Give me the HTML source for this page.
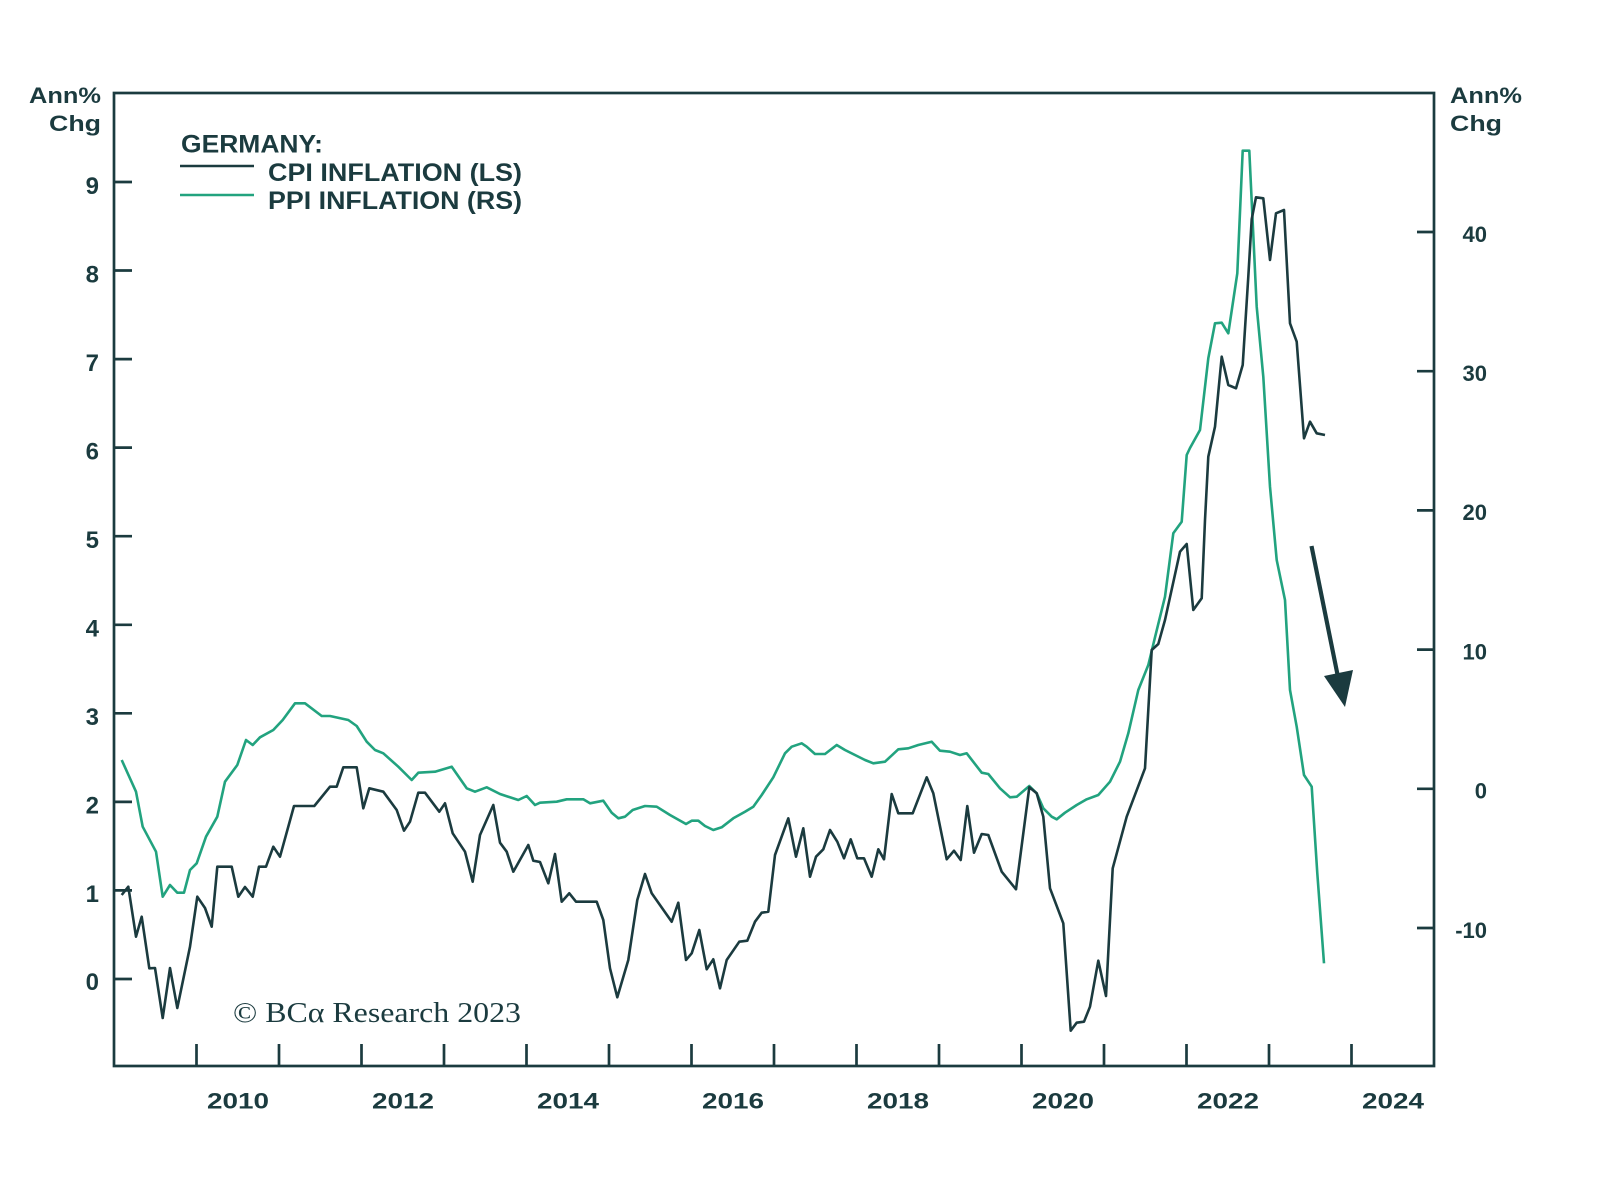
<!DOCTYPE html>
<html>
<head>
<meta charset="utf-8">
<style>
  html,body{margin:0;padding:0;background:#ffffff;}
  svg{display:block;}
  .ax{font-family:"Liberation Sans",sans-serif;font-weight:bold;fill:#1b3b3f;}
</style>
</head>
<body>
<svg width="1600" height="1186" viewBox="0 0 1600 1186" xmlns="http://www.w3.org/2000/svg">
  <rect width="1600" height="1186" fill="#ffffff"/>

  <!-- plot frame -->
  <rect x="114" y="93" width="1320" height="973" fill="none" stroke="#1b3b3f" stroke-width="2.7"/>

  <!-- left ticks -->
  <g stroke="#1b3b3f" stroke-width="2.7">
    <line x1="114" y1="182" x2="132" y2="182"/>
    <line x1="114" y1="270.5" x2="132" y2="270.5"/>
    <line x1="114" y1="359.1" x2="132" y2="359.1"/>
    <line x1="114" y1="447.6" x2="132" y2="447.6"/>
    <line x1="114" y1="536.2" x2="132" y2="536.2"/>
    <line x1="114" y1="624.8" x2="132" y2="624.8"/>
    <line x1="114" y1="713.3" x2="132" y2="713.3"/>
    <line x1="114" y1="801.9" x2="132" y2="801.9"/>
    <line x1="114" y1="890.4" x2="132" y2="890.4"/>
    <line x1="114" y1="979" x2="132" y2="979"/>
  </g>
  <!-- right ticks -->
  <g stroke="#1b3b3f" stroke-width="2.7">
    <line x1="1417" y1="232" x2="1434" y2="232"/>
    <line x1="1417" y1="371.2" x2="1434" y2="371.2"/>
    <line x1="1417" y1="510.4" x2="1434" y2="510.4"/>
    <line x1="1417" y1="649.6" x2="1434" y2="649.6"/>
    <line x1="1417" y1="788.8" x2="1434" y2="788.8"/>
    <line x1="1417" y1="928" x2="1434" y2="928"/>
  </g>
  <!-- bottom ticks -->
  <g stroke="#1b3b3f" stroke-width="2.7">
    <line x1="196.5" y1="1044" x2="196.5" y2="1066"/>
    <line x1="279" y1="1044" x2="279" y2="1066"/>
    <line x1="361.5" y1="1044" x2="361.5" y2="1066"/>
    <line x1="444" y1="1044" x2="444" y2="1066"/>
    <line x1="526.5" y1="1044" x2="526.5" y2="1066"/>
    <line x1="609" y1="1044" x2="609" y2="1066"/>
    <line x1="691.5" y1="1044" x2="691.5" y2="1066"/>
    <line x1="774" y1="1044" x2="774" y2="1066"/>
    <line x1="856.5" y1="1044" x2="856.5" y2="1066"/>
    <line x1="939" y1="1044" x2="939" y2="1066"/>
    <line x1="1021.5" y1="1044" x2="1021.5" y2="1066"/>
    <line x1="1104" y1="1044" x2="1104" y2="1066"/>
    <line x1="1186.5" y1="1044" x2="1186.5" y2="1066"/>
    <line x1="1269" y1="1044" x2="1269" y2="1066"/>
    <line x1="1351.5" y1="1044" x2="1351.5" y2="1066"/>
  </g>

  <!-- left labels -->
  <g class="ax" font-size="24" text-anchor="end">
    <text x="99" y="194">9</text>
    <text x="99" y="282.5">8</text>
    <text x="99" y="371">7</text>
    <text x="99" y="459.5">6</text>
    <text x="99" y="548">5</text>
    <text x="99" y="636.5">4</text>
    <text x="99" y="725">3</text>
    <text x="99" y="813.5">2</text>
    <text x="99" y="902">1</text>
    <text x="99" y="990">0</text>
  </g>
  <!-- right labels -->
  <g class="ax" font-size="22" text-anchor="end">
    <text x="1487" y="242">40</text>
    <text x="1487" y="381">30</text>
    <text x="1487" y="520">20</text>
    <text x="1487" y="659.5">10</text>
    <text x="1487" y="798.5">0</text>
    <text x="1487" y="938">-10</text>
  </g>
  <!-- axis titles -->
  <g class="ax" font-size="22">
    <text x="101" y="103" text-anchor="end" textLength="72" lengthAdjust="spacingAndGlyphs">Ann%</text>
    <text x="101" y="131" text-anchor="end" textLength="52" lengthAdjust="spacingAndGlyphs">Chg</text>
    <text x="1450" y="103" textLength="72" lengthAdjust="spacingAndGlyphs">Ann%</text>
    <text x="1450" y="131" textLength="52" lengthAdjust="spacingAndGlyphs">Chg</text>
  </g>
  <!-- year labels -->
  <g class="ax" font-size="22">
    <text x="207" y="1108.5" textLength="62" lengthAdjust="spacingAndGlyphs">2010</text>
    <text x="372" y="1108.5" textLength="62" lengthAdjust="spacingAndGlyphs">2012</text>
    <text x="537" y="1108.5" textLength="62" lengthAdjust="spacingAndGlyphs">2014</text>
    <text x="702" y="1108.5" textLength="62" lengthAdjust="spacingAndGlyphs">2016</text>
    <text x="867" y="1108.5" textLength="62" lengthAdjust="spacingAndGlyphs">2018</text>
    <text x="1032" y="1108.5" textLength="62" lengthAdjust="spacingAndGlyphs">2020</text>
    <text x="1197" y="1108.5" textLength="62" lengthAdjust="spacingAndGlyphs">2022</text>
    <text x="1362" y="1108.5" textLength="62" lengthAdjust="spacingAndGlyphs">2024</text>
  </g>

  <!-- legend -->
  <g class="ax" font-size="25">
    <text x="181" y="152.5" textLength="142" lengthAdjust="spacingAndGlyphs">GERMANY:</text>
    <text x="268" y="181" textLength="254" lengthAdjust="spacingAndGlyphs">CPI INFLATION (LS)</text>
    <text x="268" y="209" textLength="254" lengthAdjust="spacingAndGlyphs">PPI INFLATION (RS)</text>
  </g>
  <line x1="180" y1="166" x2="254" y2="166" stroke="#1b3b3f" stroke-width="2.6"/>
  <line x1="180" y1="195" x2="254" y2="195" stroke="#22a37f" stroke-width="2.6"/>

  <!-- watermark -->
  <text x="233" y="1022" font-family="'Liberation Serif',serif" font-size="28" fill="#1b3b3f" textLength="288" lengthAdjust="spacingAndGlyphs">© BCα Research 2023</text>

  <!-- PPI series (right scale) -->
  <polyline fill="none" stroke="#22a37f" stroke-width="2.6" stroke-linejoin="round" points="
121.7,760 136,791.7 142.7,826.7 156,851.7 162.7,896.7 170,885 177.3,892.7 184,892.7 190,870 196.7,863.3
206,836.7 217.3,816.7 225,781.7 237.3,765 246,740 252.7,745 260,737.3 273.3,730 282.7,720 295,703.3
305,703.3 321.7,716 330,716 348.3,720 356.7,726 366.7,741.7 375,750 383.3,753.3 398.3,766.7 411.7,780
418.3,772.7 435,771.7 451.7,766.7 466.7,788.3 475,791.7 486.7,787.3 500,794 518.3,800 526.7,796 535,805
540,802.7 556.7,801.7 566.7,799.3 583.3,799.3 590,803.3 603.3,800.7 611.7,812.7 618.3,818.3 625,816.7
632.7,810 645,806 656.7,806.7 670,815 686,824 691.7,820.7 698.3,820.7 705,826 713.3,830 721.7,827.3
733.3,818.3 745,811.7 753.3,806.7 761.7,795 773.3,777.3 785,753.3 791.7,746.7 801.7,743.3 806.7,746.7
815,754 825,754 836.7,745 845,750 865,760 873.3,763.3 885,761.7 898.3,749.3 908.3,748.3 918.3,745
931.7,741.7 940,750.7 950,751.7 960,755 966.7,753.3 981.7,772.7 988.3,774 1000,788.3 1010,797.3
1016.7,796.7 1029.3,786 1036.7,793.3 1043.3,808.3 1051.7,816.7 1056.7,819.3 1065,812.7 1076.7,805
1086.7,799.3 1098.3,795 1110,781.7 1120,761.7 1128.3,733.3 1138.3,690 1148.3,665 1155,637.3 1165,596.7
1173.3,533.3 1181.7,521.7 1186.7,455 1190,448 1200,430 1208.3,358.3 1215,323.3 1221.7,322.7 1228.3,333.3
1233.3,300 1237.3,273.3 1242.7,150.7 1249.3,150.7 1256.7,306.7 1263.3,376.7 1270,486.7 1276.7,560
1285,600 1290,690 1296.7,726.7 1304,775 1311.7,786.7 1317.3,873.3 1324,963.3"/>

  <!-- CPI series (left scale) -->
  <polyline fill="none" stroke="#1b3b3f" stroke-width="2.6" stroke-linejoin="round" points="
121.7,895 128.3,886.7 136,936.7 141.7,916.7 149.3,968.3 155,968 162.7,1018 170,968 177.3,1008 190,946.7
197.3,896.7 205,908 211.7,926.7 217.3,866.7 231.7,866.7 238.3,896.7 245,887 252.7,896.7 259,866.7
266,866.7 273.3,846.7 280,856.7 294,806 314.3,806 330,786.7 336.7,786.7 343.3,767.3 356.7,767.3
363.3,808.3 369.3,788.3 383.3,791.7 396.7,810 404,830.7 410,821.7 418.3,792.7 425,792.7 439.3,811.7
445,803.3 452.7,833.3 465,851.7 472.7,881.7 480,835 493.3,805 500,842.7 506.7,851.7 513.3,871.7
528.3,845 533.3,860.7 540,862 548.3,883.3 555,854 561.7,901.7 569.3,893.3 576,901.7 596.7,901.7
603.3,920 610,968.3 617.3,997.3 628.3,960 637.3,900 645,874 651.7,893.3 671.7,921.7 678.3,902.7
686,960 691.7,953.3 699.3,930 706.7,969.3 713.3,959.3 720,988.3 726.7,960 739.3,941.7 747.3,940.7
755,921.7 761.7,912.7 768.3,911.7 775,855 788.3,818.3 796,856.7 803.3,828.3 810,876.7 816,856.7
823.3,849.3 830,830 837.3,841.7 844,858.3 850.7,839.3 857.3,858.3 864,858.3 871.7,876.7 878.3,849.3
884,859.3 891.7,794 898.3,813.3 912.7,813.3 926.7,777.3 933.3,793.3 946.7,859.3 954,850.7 960.7,860
967.3,806 974,852.7 981.7,834 988.3,835 1001.7,871.7 1016,889.3 1029.3,787.3 1036.7,793.3 1043.3,816.7
1050,888.3 1063.3,923.3 1070.7,1030.7 1076.7,1022.7 1084,1021.7 1090,1006.7 1098.3,960.7 1106,996
1112.7,868.3 1126.7,816.7 1145,768.3 1151.7,650 1158.3,644 1165,620 1180,551.7 1186.7,544 1193.3,610
1201.7,598.3 1205,520 1208.3,456.7 1215,426.7 1221.7,356.7 1228.3,385 1236,388.3 1242.7,365 1248.3,276.7
1251.7,219.3 1256,197.3 1263.3,198.3 1270,260 1276,213.3 1284,210 1290,323.3 1296.7,341.7 1304,438.3
1310,421.7 1316.7,433.3 1325,435"/>

  <!-- arrow -->
  <line x1="1311.5" y1="546" x2="1339" y2="682" stroke="#1b3b3f" stroke-width="4.2"/>
  <polygon points="1324,676 1353,670 1345,707" fill="#1b3b3f"/>
</svg>
</body>
</html>
